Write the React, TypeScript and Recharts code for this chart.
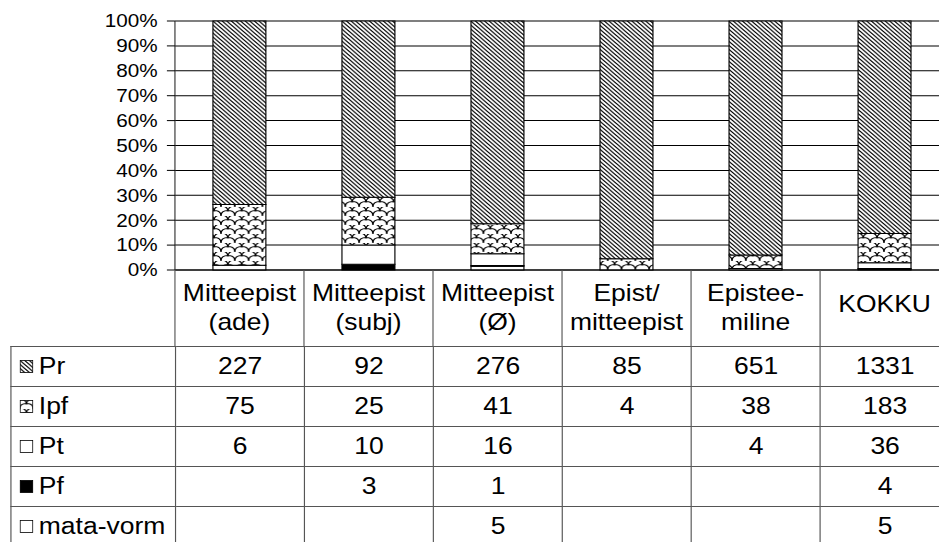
import { Bar, BarChart, CartesianGrid, XAxis, YAxis } from 'recharts'

// categories (table header) and the counts from the data table
const categories = [
    'Mitteepist\n(ade)',
    'Mitteepist\n(subj)',
    'Mitteepist\n(Ø)',
    'Epist/\nmitteepist',
    'Epistee-\nmiline',
    'KOKKU',
]
const pr = [227, 92, 276, 85, 651, 1331]
const ipf = [75, 25, 41, 4, 38, 183]
const pt = [6, 10, 16, null, 4, 36]
const pf = [null, 3, 1, null, null, 4]
const mataVorm = [null, null, 5, null, null, 5]
const yTicks = [0, 0.1, 0.2, 0.3, 0.4, 0.5, 0.6, 0.7, 0.8, 0.9, 1]

// table order (top to bottom); stacked the other way round
const series = [
    { key: 'Pr', values: pr, fill: 'url(#pat-pr)' },
    { key: 'Ipf', values: ipf, fill: 'url(#pat-ipf)' },
    { key: 'Pt', values: pt, fill: '#fff' },
    { key: 'Pf', values: pf, fill: '#000' },
    { key: 'mata-vorm', values: mataVorm, fill: '#fff' },
]

const data = categories.map((cat, i) => {
    const row: Record<string, string | number | null> = { cat }
    series.forEach((s) => {
        row[s.key] = s.values[i]
    })
    return row
})

// the original picture is a bit wider than the font; stretch everything
const SX = 1.151
const AXIS_X = 152
const COLW = 112.1
const CHART_W = AXIS_X + categories.length * COLW
const HEADER_H = 76
const ROW_H = 40
const TABLE_LEFT = 8.7
const BORDER = '#555'
const FONT = '"Liberation Sans", Arial, sans-serif'

const CatTick = (props: any) => {
    const { x, y, payload, index } = props
    const lines = String(payload.value).split('\n')
    const baseY = lines.length === 1 ? y + 42 : y + 31
    return (
        <g>
            <line x1={x - COLW / 2} x2={x - COLW / 2} y1={y} y2={y + HEADER_H} stroke={BORDER} />
            {index === categories.length - 1 && (
                <line x1={x + COLW / 2} x2={x + COLW / 2} y1={y} y2={y + HEADER_H} stroke={BORDER} />
            )}
            <text textAnchor="middle" fontSize={23} fill="#000">
                {lines.map((l, i) => (
                    <tspan key={i} x={x} y={baseY + i * 29}>
                        {l}
                    </tspan>
                ))}
            </text>
        </g>
    )
}

const KeyBox = ({ fill }: { fill: string }) => (
    <svg width={12} height={13} style={{ display: 'block' }}>
        <rect x={0.5} y={0.5} width={11} height={12} fill={fill} stroke="#000" strokeWidth={0.8} />
    </svg>
)

const cell: React.CSSProperties = {
    border: `1px solid ${BORDER}`,
    padding: 0,
    textAlign: 'center',
    verticalAlign: 'middle',
    fontSize: 23,
    lineHeight: 1,
}

const App = () => {
    return (
        <div
            style={{
                position: 'fixed',
                left: 0,
                top: 0,
                width: 939,
                height: 542,
                overflow: 'hidden',
                background: '#fff',
                fontFamily: FONT,
            }}
        >
            <div
                style={{
                    position: 'relative',
                    width: CHART_W,
                    transform: `scaleX(${SX})`,
                    transformOrigin: '0 0',
                }}
            >
                <BarChart
                    width={CHART_W}
                    height={346}
                    data={data}
                    stackOffset="expand"
                    barSize={46}
                    margin={{ top: 21, right: 0, bottom: 0, left: 0 }}
                >
                    <defs>
                        <pattern id="pat-pr" width={4} height={4} patternUnits="userSpaceOnUse">
                            <rect width={4} height={4} fill="#fff" />
                            <path d="M-1,-1 L5,5 M3,-1 L5,1 M-1,3 L1,5" stroke="#000" strokeWidth={1.1} />
                        </pattern>
                        <pattern id="pat-ipf" width={12} height={9} patternUnits="userSpaceOnUse">
                            <rect width={12} height={9} fill="#fff" />
                            <path
                                d="M0,9 Q0,3.5 6,3.5 Q12,3.5 12,9 M-6,4.5 Q-6,-1 0,-1 Q6,-1 6,4.5 M6,4.5 Q6,-1 12,-1 Q18,-1 18,4.5"
                                fill="none"
                                stroke="#000"
                                strokeWidth={1.1}
                            />
                        </pattern>
                    </defs>
                    <CartesianGrid vertical={false} stroke="#000" shapeRendering="crispEdges" />
                    <XAxis
                        dataKey="cat"
                        height={HEADER_H}
                        interval={0}
                        tickLine={false}
                        tickSize={0}
                        tickMargin={0}
                        axisLine={{ stroke: '#000' }}
                        tick={(p: any) => <CatTick {...p} />}
                    />
                    <YAxis
                        type="number"
                        domain={[0, 1]}
                        ticks={yTicks}
                        interval={0}
                        width={AXIS_X}
                        tickSize={7}
                        tickMargin={8}
                        tickFormatter={(v: number) => `${Math.round(v * 100)}%`}
                        tick={{ fill: '#000', fontSize: 18 }}
                        tickLine={{ stroke: '#000' }}
                        axisLine={{ stroke: '#333' }}
                    />
                    {[...series].reverse().map((s) => (
                        <Bar
                            key={s.key}
                            dataKey={s.key}
                            stackId="a"
                            fill={s.fill}
                            stroke="#000"
                            strokeWidth={1}
                            isAnimationActive={false}
                        />
                    ))}
                </BarChart>
                <table
                    style={{
                        position: 'absolute',
                        top: 346,
                        left: TABLE_LEFT,
                        borderCollapse: 'collapse',
                        tableLayout: 'fixed',
                        width: AXIS_X - TABLE_LEFT + categories.length * COLW,
                    }}
                >
                    <colgroup>
                        <col style={{ width: AXIS_X - TABLE_LEFT }} />
                        {categories.map((c) => (
                            <col key={c} style={{ width: COLW }} />
                        ))}
                    </colgroup>
                    <tbody>
                        {series.map((s) => (
                            <tr key={s.key} style={{ height: ROW_H }}>
                                <td style={{ ...cell, textAlign: 'left' }}>
                                    <div style={{ display: 'flex', alignItems: 'center', paddingLeft: 7 }}>
                                        <KeyBox fill={s.fill} />
                                        <span style={{ marginLeft: 5 }}>{s.key}</span>
                                    </div>
                                </td>
                                {s.values.map((v, i) => (
                                    <td key={i} style={cell}>
                                        {v === null ? '' : v}
                                    </td>
                                ))}
                            </tr>
                        ))}
                    </tbody>
                </table>
            </div>
        </div>
    )
}

export default App
